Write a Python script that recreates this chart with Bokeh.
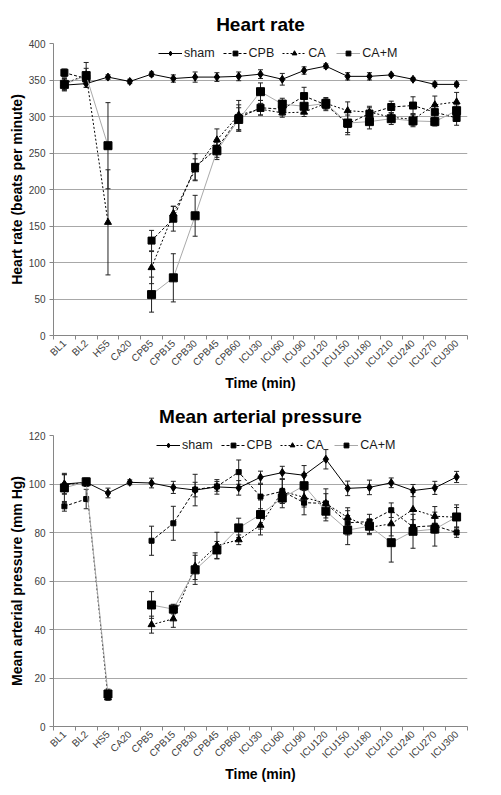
import math
import numpy as np
from bokeh.plotting import figure
from bokeh.models import (ColumnDataSource, Whisker, TeeHead, Legend, LegendItem,
                          FixedTicker, Range1d, Title)
from bokeh.layouts import column
from bokeh.embed import file_html
from bokeh.resources import INLINE

nan = float("nan")

categories = ["BL1", "BL2", "HS5", "CA20", "CPB5", "CPB15", "CPB30", "CPB45", "CPB60",
              "ICU30", "ICU60", "ICU90", "ICU120", "ICU150", "ICU180", "ICU210",
              "ICU240", "ICU270", "ICU300"]
series_names = ["sham", "CPB", "CA", "CA+M"]

# Heart rate (beats per minute)
hr_sham = [343, 345, 354, 348, 358, 352, 354, 354, 355, 358, 351, 363, 369, 355, 355, 357, 351, 344, 344]
hr_sham_err = [8, 5, 3, 3, 3, 5, 7, 6, 6, 6, 8, 5, 3, 5, 5, 2, 2, 3, 3]
hr_cpb = [360, 352, nan, nan, 130, 160, 231, 256, 298, 312, 310, 328, 316, 290, 304, 313, 315, 306, 298]
hr_cpb_err = [5, 8, nan, nan, 14, 17, 18, 12, 18, 10, 8, 12, 8, 12, 10, 8, 12, 10, 10]
hr_ca = [345, 357, 155, nan, 93, 167, 227, 268, 302, 310, 305, 306, 318, 308, 306, 299, 296, 316, 320]
hr_ca_err = [8, 17, 72, nan, 22, 10, 15, 15, 20, 8, 6, 6, 6, 12, 6, 6, 8, 12, 13]
hr_cam = [344, 356, 260, nan, 56, 79, 164, 253, 296, 334, 317, 314, 318, 291, 293, 297, 294, 293, 308]
hr_cam_err = [8, 10, 59, nan, 24, 33, 28, 12, 16, 12, 8, 10, 8, 16, 10, 8, 8, 6, 8]

# Mean arterial pressure (mm Hg)
map_sham = [100, 100.7, 96.3, 100.7, 100.4, 98.6, 97.5, 98.8, 98.4, 102.8, 104.7, 103.6, 110.2, 98.2, 98.6, 100.5, 97.3, 98.4, 102.9]
map_sham_err = [4, 1.5, 2, 1, 2, 2.5, 6.5, 3, 3, 2.5, 2.6, 4, 4, 3, 3, 2, 2.5, 2.7, 2.3]
map_cpb = [90.8, 93.8, nan, nan, 76.6, 83.8, 97.7, 99, 104.9, 94.8, 97, 92.3, 92, 84, 84.5, 89.2, 82.3, 82.8, 80]
map_cpb_err = [2, 4, nan, nan, 6, 7, 3, 2, 5, 5, 5, 5, 4, 5, 3, 3, 3, 3, 2]
map_ca = [99.8, 100.5, 11.8, nan, 42, 44.4, 66.1, 74.6, 77, 83, 97, 94.5, 92, 86.2, 82.1, 83.6, 89.5, 86.7, 86.3]
map_ca_err = [4, 1.5, 1, nan, 3.5, 3.5, 5.5, 5.5, 2, 4, 5, 4, 6, 4, 3, 5, 7, 4, 4]
map_cam = [98.4, 100.9, 13.4, nan, 50.1, 48.4, 64.6, 72.8, 81.9, 87.4, 94.2, 99.3, 88.8, 81, 82.6, 75.8, 80.5, 81.4, 86.4]
map_cam_err = [6, 1.5, 2, nan, 5.5, 2, 6, 3.5, 4, 6, 4, 5, 4, 6, 3, 8, 7, 7, 5]

FONT = "Liberation Sans"
AXIS_GRAY = "#868686"
GRID_GRAY = "#a8a8a8"


def panel(title, ylabel, ymax, ystep, values, errors, cpb_size, min_top, frame_h, min_bottom, legend_xy):
    n = len(categories)
    xs = np.arange(n) + 0.5
    p = figure(frame_width=414, frame_height=frame_h, output_backend="svg", toolbar_location=None,
               x_range=Range1d(0, n), y_range=Range1d(0, ymax),
               min_border_left=53, min_border_right=22, min_border_top=min_top,
               min_border_bottom=min_bottom)
    p.outline_line_color = None
    p.background_fill_color = "white"
    p.border_fill_color = "white"
    p.title = Title(text=title, align="center", text_font=FONT, text_font_size="19px",
                    text_font_style="bold", text_color="black", standoff=18)

    # x axis: labels at category centres, tick marks at category boundaries
    xa = p.xaxis[0]
    xa.ticker = FixedTicker(ticks=list(xs), minor_ticks=list(range(n + 1)))
    xa.major_label_overrides = {float(x): c for x, c in zip(xs, categories)}
    xa.major_label_orientation = math.pi / 4
    xa.major_tick_line_color = None
    xa.major_tick_out = 0
    xa.major_tick_in = 0
    xa.minor_tick_line_color = AXIS_GRAY
    xa.minor_tick_out = 4
    xa.minor_tick_in = 0
    xa.axis_line_color = AXIS_GRAY
    xa.major_label_text_font = FONT
    xa.major_label_text_font_size = "10px"
    xa.major_label_text_color = "#404040"
    xa.major_label_standoff = 2
    xa.axis_label = "Time (min)"
    xa.axis_label_text_font = FONT
    xa.axis_label_text_font_size = "14px"
    xa.axis_label_text_font_style = "bold"
    xa.axis_label_text_color = "black"
    xa.axis_label_standoff = -1

    ya = p.yaxis[0]
    ya.ticker = FixedTicker(ticks=list(range(0, ymax + 1, ystep)), minor_ticks=[])
    ya.major_tick_line_color = AXIS_GRAY
    ya.major_tick_out = 4
    ya.major_tick_in = 0
    ya.axis_line_color = AXIS_GRAY
    ya.major_label_text_font = FONT
    ya.major_label_text_font_size = "10px"
    ya.major_label_text_color = "#404040"
    ya.major_label_standoff = 4
    ya.axis_label = ylabel
    ya.axis_label_text_font = FONT
    ya.axis_label_text_font_size = "14px"
    ya.axis_label_text_font_style = "bold"
    ya.axis_label_text_color = "black"
    ya.axis_label_standoff = 1

    p.xgrid.grid_line_color = None
    p.ygrid.ticker = FixedTicker(ticks=list(range(ystep, ymax + 1, ystep)))
    p.ygrid.grid_line_color = GRID_GRAY
    p.ygrid.grid_line_width = 1

    styles = {
        "sham": dict(color="black", dash="solid", marker="diamond", size=8),
        "CPB": dict(color="black", dash="3 2", marker="square", size=cpb_size),
        "CA": dict(color="black", dash="2 2", marker="triangle", size=7),
        "CA+M": dict(color="#a9a9a9", dash="solid", marker="square", size=8),
    }

    items = []
    for name, vals, errs in zip(series_names, values, errors):
        st = styles[name]
        v = np.array(vals, dtype=float)
        e = np.array(errs, dtype=float)
        ok = ~np.isnan(v)
        es = ColumnDataSource(dict(x=xs[ok], upper=(v + e)[ok], lower=(v - e)[ok]))
        wk = Whisker(source=es, base="x", upper="upper", lower="lower", dimension="height",
                     line_color="#222222", line_width=1,
                     upper_head=TeeHead(size=5, line_color="#222222", line_width=1),
                     lower_head=TeeHead(size=5, line_color="#222222", line_width=1))
        p.add_layout(wk)
        src = ColumnDataSource(dict(x=xs, y=v))
        lr = p.line("x", "y", source=src, line_color=st["color"], line_width=1,
                    line_dash=st["dash"])
        mr = p.scatter("x", "y", source=ColumnDataSource(dict(x=xs[ok], y=v[ok])),
                       marker=st["marker"], size=st["size"], fill_color="black",
                       line_color="black")
        items.append(LegendItem(label=name, renderers=[lr, mr]))

    leg = Legend(items=items, orientation="horizontal", location=legend_xy,
                 padding=0, margin=0, spacing=8, label_standoff=2,
                 glyph_width=24, glyph_height=12, label_height=12,
                 label_text_font=FONT, label_text_font_size="12.5px",
                 label_text_color="#1a1a1a", border_line_color=None,
                 background_fill_alpha=0)
    p.add_layout(leg)
    return p


p1 = panel("Heart rate", "Heart rate (beats per minute)", 400, 50,
           [hr_sham, hr_cpb, hr_ca, hr_cam],
           [hr_sham_err, hr_cpb_err, hr_ca_err, hr_cam_err],
           cpb_size=7, min_top=43, frame_h=292, min_bottom=58, legend_xy=(105, 275))
p2 = panel("Mean arterial pressure", "Mean arterial pressure (mm Hg)", 120, 20,
           [map_sham, map_cpb, map_ca, map_cam],
           [map_sham_err, map_cpb_err, map_ca_err, map_cam_err],
           cpb_size=5, min_top=41, frame_h=291, min_bottom=62, legend_xy=(103, 274))

layout = column(p1, p2)
open("out.html", "w").write(file_html(layout, INLINE))
